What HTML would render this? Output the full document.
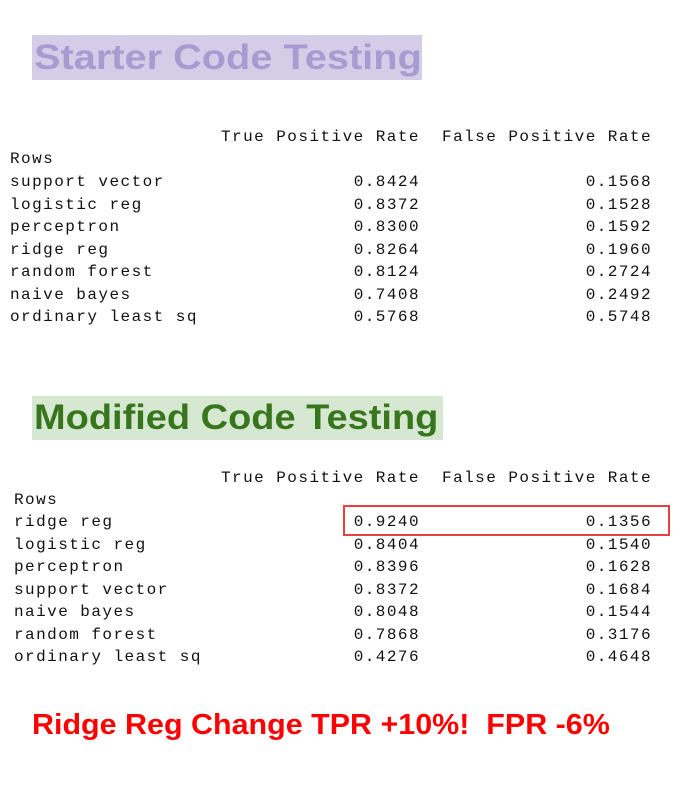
<!DOCTYPE html>
<html><head><meta charset="utf-8">
<style>
body{margin:0;width:696px;height:808px;background:#fff;position:relative;overflow:hidden;font-family:"Liberation Sans",sans-serif}
.t{position:absolute;white-space:pre;font-weight:bold;line-height:1}
.ts{display:inline-block;transform-origin:0 50%}
.m{position:absolute;white-space:pre;font-family:"Liberation Mono",monospace;font-size:16px;letter-spacing:1.45px;color:#111;line-height:22.5px}
.r{position:absolute;text-align:right;width:200px}
#hb{position:absolute;left:343px;top:505px;width:327px;height:31px;box-sizing:border-box;border-width:2px;border-style:solid;border-color:rgb(232,64,64)}
</style></head><body>
<div class="t" style="left:32px;top:35px;width:390px;height:45px;background:#d5cde8;color:#a99bd1;font-size:35px;line-height:45px;padding-left:2px;box-sizing:border-box"><span class="ts" style="transform:scaleX(1.135)">Starter Code Testing</span></div>

<div class="m" style="left:10px;top:126px;width:660px;height:210px">
<div style="position:absolute;left:211px;top:0">True Positive Rate  False Positive Rate</div>
<div style="position:absolute;left:0;top:22px">Rows</div>
<div style="position:absolute;left:0;top:45px">support vector<br>logistic reg<br>perceptron<br>ridge reg<br>random forest<br>naive bayes<br>ordinary least sq</div>
<div class="r" style="left:210px;top:45px">0.8424<br>0.8372<br>0.8300<br>0.8264<br>0.8124<br>0.7408<br>0.5768</div>
<div class="r" style="left:442px;top:45px">0.1568<br>0.1528<br>0.1592<br>0.1960<br>0.2724<br>0.2492<br>0.5748</div>
</div>

<div class="t" style="left:32px;top:396px;width:411px;height:44px;background:#d6e8d1;color:#38761d;font-size:35px;line-height:44px;padding-left:2px;box-sizing:border-box"><span class="ts" style="transform:scaleX(1.085)">Modified Code Testing</span></div>

<div class="m" style="left:14px;top:467px;width:660px;height:210px">
<div style="position:absolute;left:207px;top:0">True Positive Rate  False Positive Rate</div>
<div style="position:absolute;left:0;top:22px">Rows</div>
<div style="position:absolute;left:0;top:44px">ridge reg<br>logistic reg<br>perceptron<br>support vector<br>naive bayes<br>random forest<br>ordinary least sq</div>
<div class="r" style="left:206px;top:44px">0.9240<br>0.8404<br>0.8396<br>0.8372<br>0.8048<br>0.7868<br>0.4276</div>
<div class="r" style="left:438px;top:44px">0.1356<br>0.1540<br>0.1628<br>0.1684<br>0.1544<br>0.3176<br>0.4648</div>
</div>

<div id="hb"></div>

<div class="t" style="left:32px;top:711px;color:#ff0000;font-size:29px"><span class="ts" style="transform:scaleX(1.05)">Ridge Reg Change TPR +10%!&nbsp; FPR -6%</span></div>
</body></html>
